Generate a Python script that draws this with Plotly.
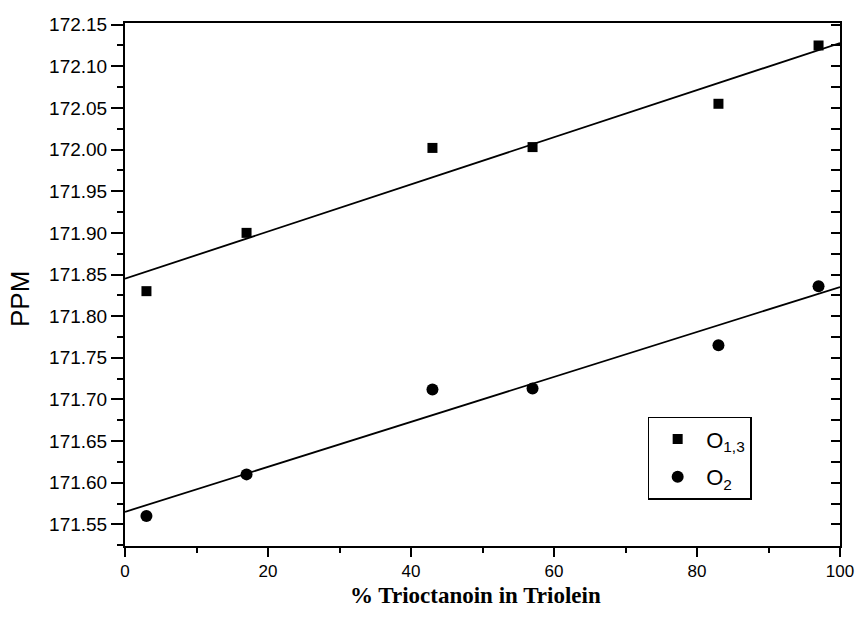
import plotly.graph_objects as go

# Data
pct = [3, 17, 43, 57, 83, 97]
ppm_o13 = [171.830, 171.900, 172.002, 172.003, 172.055, 172.125]
ppm_o2 = [171.560, 171.610, 171.712, 171.713, 171.765, 171.836]

fit_x = [0, 100]
fit_o13 = [171.845, 172.128]
fit_o2 = [171.565, 171.835]

x_ticks = [0, 20, 40, 60, 80, 100]
y_ticks = [171.55, 171.60, 171.65, 171.70, 171.75, 171.80, 171.85,
           171.90, 171.95, 172.00, 172.05, 172.10, 172.15]

yrange = [171.524, 172.152]
xrange = [0, 100]

fig = go.Figure()

fig.add_trace(go.Scatter(x=fit_x, y=fit_o13, mode="lines",
                         line=dict(color="black", width=1.8),
                         showlegend=False, hoverinfo="skip", yaxis="y2"))
fig.add_trace(go.Scatter(x=fit_x, y=fit_o2, mode="lines",
                         line=dict(color="black", width=1.8),
                         showlegend=False, hoverinfo="skip", yaxis="y2"))

fig.add_trace(go.Scatter(x=pct, y=ppm_o13, mode="markers", name="O<sub>1,3</sub>",
                         legendgroup="a",
                         marker=dict(symbol="square", size=10, color="black")))
fig.add_trace(go.Scatter(x=pct, y=ppm_o2, mode="markers", name="O<sub>2</sub>",
                         legendgroup="b",
                         marker=dict(symbol="circle", size=12, color="black")))

sans = "Liberation Sans, Arial, sans-serif"
tickfont = dict(family=sans, size=19, color="black")

fig.update_layout(
    width=857, height=626,
    margin=dict(l=125, r=17, t=23, b=80, autoexpand=False),
    paper_bgcolor="white", plot_bgcolor="white",
    showlegend=True,
    legend=dict(x=0.731, y=0.247, xanchor="left", yanchor="top",
                bordercolor="black", borderwidth=1.5, bgcolor="white",
                font=dict(family=sans, size=22, color="black"),
                tracegroupgap=6, itemwidth=47),
    xaxis=dict(range=xrange, tickvals=x_ticks, ticktext=[str(v) for v in x_ticks],
               showgrid=False, zeroline=False, automargin=False,
               showline=True, linecolor="black", linewidth=2, mirror=True,
               ticks="outside", ticklen=9, tickwidth=2, tickcolor="black",
               minor=dict(dtick=10, ticks="outside", ticklen=5, tickwidth=2, tickcolor="black"),
               tickfont=dict(family=sans, size=17, color="black")),
    yaxis=dict(range=yrange, tickvals=y_ticks, ticktext=[f"{v:.2f}" for v in y_ticks],
               showgrid=False, zeroline=False, automargin=False,
               showline=True, linecolor="black", linewidth=2, mirror=True,
               ticks="outside", ticklen=12, tickwidth=2, tickcolor="black",
               minor=dict(dtick=0.025, tick0=171.55, ticks="outside", ticklen=6,
                          tickwidth=2, tickcolor="black"),
               tickfont=tickfont),
    yaxis2=dict(range=yrange, overlaying="y", side="right", automargin=False,
                showgrid=False, zeroline=False, showticklabels=False,
                showline=True, linecolor="black", linewidth=2,
                tickvals=y_ticks, ticks="inside", ticklen=9, tickwidth=2, tickcolor="black",
                minor=dict(dtick=0.025, tick0=171.55, ticks="inside", ticklen=9,
                           tickwidth=2, tickcolor="black")),
    annotations=[
        dict(text="PPM", xref="paper", yref="paper", x=-0.147, y=0.472,
             xanchor="center", yanchor="middle", textangle=-90, showarrow=False,
             font=dict(family=sans, size=26, color="black")),
        dict(text="<b>% Trioctanoin in Triolein</b>", xref="paper", yref="paper",
             x=0.49, y=-0.095, xanchor="center", yanchor="middle", showarrow=False,
             font=dict(family="Liberation Serif, Times New Roman, serif", size=23, color="black")),
    ],
)

fig.write_html("out.html",
               config={"displayModeBar": False},
               post_script="document.body.style.margin='0';document.body.style.overflow='hidden';")
